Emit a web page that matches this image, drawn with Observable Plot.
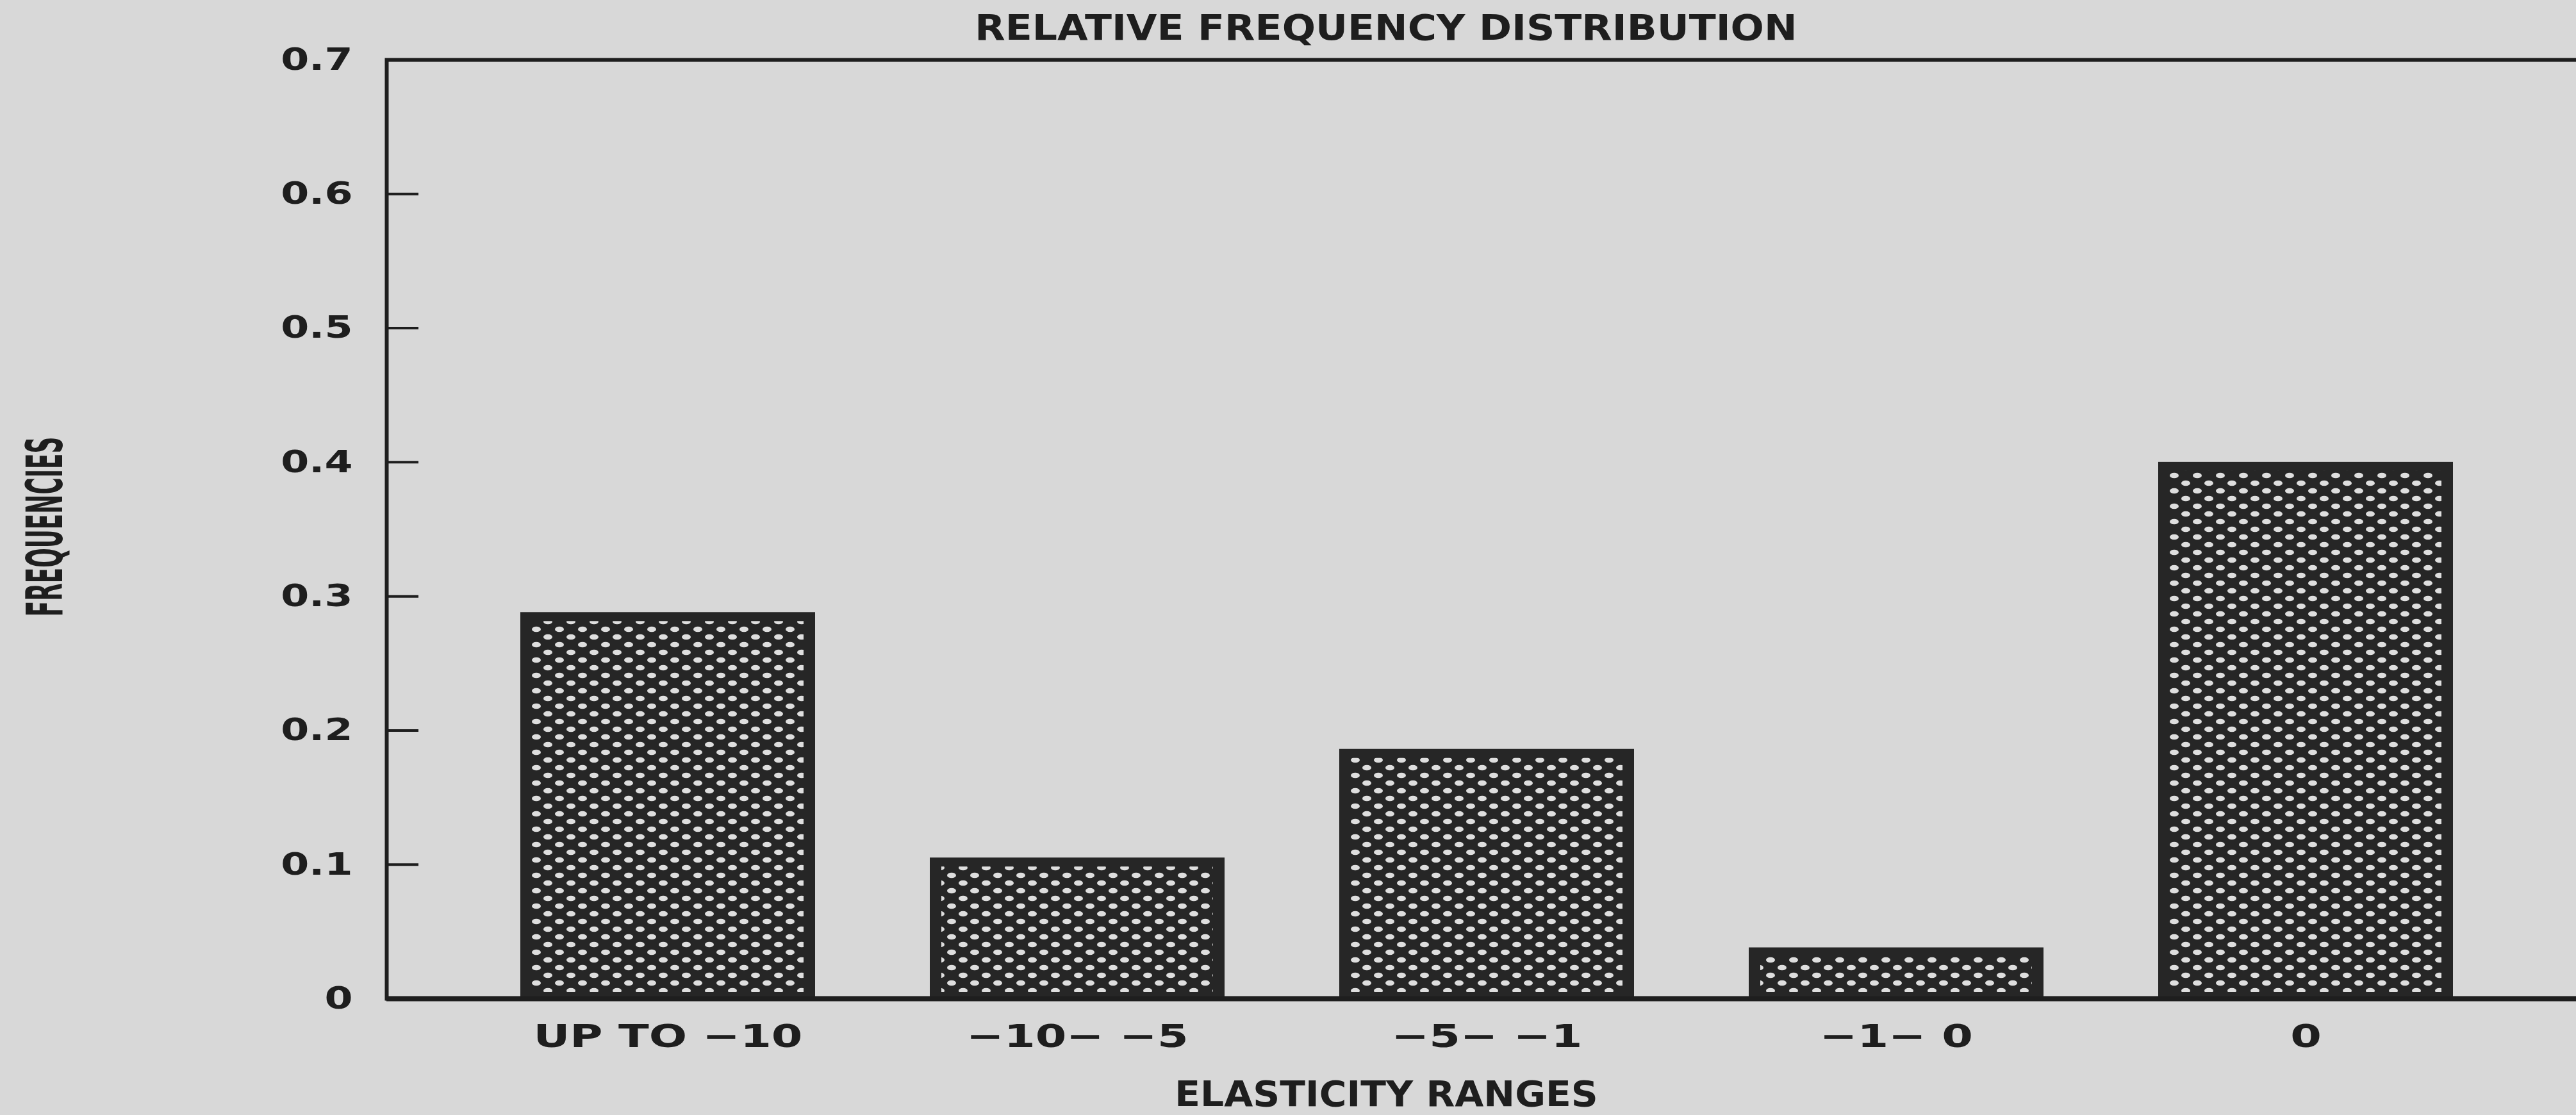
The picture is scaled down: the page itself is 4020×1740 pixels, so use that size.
<!DOCTYPE html>
<html>
<head>
<meta charset="utf-8">
<script src="https://cdn.jsdelivr.net/npm/d3@7"></script>
<script src="https://cdn.jsdelivr.net/npm/@observablehq/plot@0.6"></script>
<style>
  html, body { margin: 0; padding: 0; background: #d8d8d8; overflow: hidden; width: 4020px; height: 1740px; }
  #title { width: 4020px; height: 40px; text-align: center; padding-left: 306px; box-sizing: border-box;
           font-family: "DejaVu Sans", sans-serif; font-weight: bold; font-size: 55px; line-height: 86px; color: #1e1e1e; overflow: visible; white-space: nowrap; }
  #title span { display: inline-block; transform: scaleX(1.12); }
</style>
</head>
<body>
<div id="title"><span>RELATIVE FREQUENCY DISTRIBUTION</span></div>
<div id="chart"></div>
<script>
const categories = ["UP TO −10", "−10− −5", "−5− −1", "−1− 0", "0"];
const frequencies = [0.288, 0.105, 0.186, 0.038, 0.40];
const yTicks = [0, 0.1, 0.2, 0.3, 0.4, 0.5, 0.6, 0.7];
const yTickLabels = ["0", "0.1", "0.2", "0.3", "0.4", "0.5", "0.6", "0.7"];
const xTitle = "ELASTICITY RANGES";
const yTitle = "FREQUENCIES";

const data = categories.map((c, i) => ({cat: c, freq: frequencies[i]}));
const ink = "#1e1e1e";

const svg = Plot.plot({
  width: 4020,
  height: 1700,
  marginTop: 53,
  marginBottom: 182,
  marginLeft: 603,
  marginRight: -10,
  style: {background: "transparent", color: ink, overflow: "hidden"},
  x: {type: "band", domain: categories, range: [633, 4008], padding: 0.28},
  y: {domain: [0, 0.7]},
  marks: [
    Plot.barY(data, {x: "cat", y: "freq", fill: "#262626"}),
    Plot.barY(data, {x: "cat", y: "freq", fill: "url(#dots)", insetLeft: 18, insetRight: 18, insetTop: 14, insetBottom: 10}),
    Plot.frame({stroke: ink, strokeWidth: 6}),
    Plot.ruleY([0], {stroke: ink, strokeWidth: 8}),
    Plot.axisY({ticks: yTicks, tickFormat: (d) => yTickLabels[yTicks.indexOf(d)], tickSize: -50, tickPadding: 103,
      strokeWidth: 4, fontSize: 48, fontWeight: "bold", fontFamily: "DejaVu Sans", label: null}),
    Plot.axisX({tickSize: 0, tickPadding: 40, fontSize: 50, fontWeight: "bold", fontFamily: "DejaVu Sans", label: null}),
    Plot.text([xTitle], {frameAnchor: "bottom", dx: -153.5, dy: 150, textAnchor: "middle", lineAnchor: "middle",
      fontSize: 55, fontWeight: "bold", fontFamily: "DejaVu Sans", className: "xlab"}),
    Plot.text([yTitle], {frameAnchor: "left", dx: -531, dy: -4, rotate: -90, textAnchor: "middle", lineAnchor: "middle",
      fontSize: 78, fontWeight: "bold", fontFamily: "DejaVu Sans", className: "ylab"})
  ]
});

const s = d3.select(svg);
const defs = s.insert("defs", ":first-child");
const pat = defs.append("pattern").attr("id", "dots").attr("patternUnits", "userSpaceOnUse")
  .attr("width", 36).attr("height", 24);
pat.append("rect").attr("width", 36).attr("height", 24).attr("fill", "#262626");
pat.append("ellipse").attr("cx", 9).attr("cy", 6).attr("rx", 7).attr("ry", 4.3).attr("fill", "#dedede");
pat.append("ellipse").attr("cx", 27).attr("cy", 18).attr("rx", 7).attr("ry", 4.3).attr("fill", "#dedede");

function stretch(sel, sx, sy) {
  sel.each(function() {
    const t = this.getAttribute("transform") || "";
    this.setAttribute("transform", t + ` scale(${sx},${sy})`);
  });
}
stretch(s.selectAll('g[aria-label="x-axis tick label"] text'), 1.4, 1);
stretch(s.selectAll('g[aria-label="y-axis tick label"] text'), 1.32, 1);
stretch(s.selectAll('g.xlab text'), 1.06, 1);
stretch(s.selectAll('g.ylab text'), 0.46, 1);

document.getElementById("chart").appendChild(svg);
</script>
</body>
</html>
